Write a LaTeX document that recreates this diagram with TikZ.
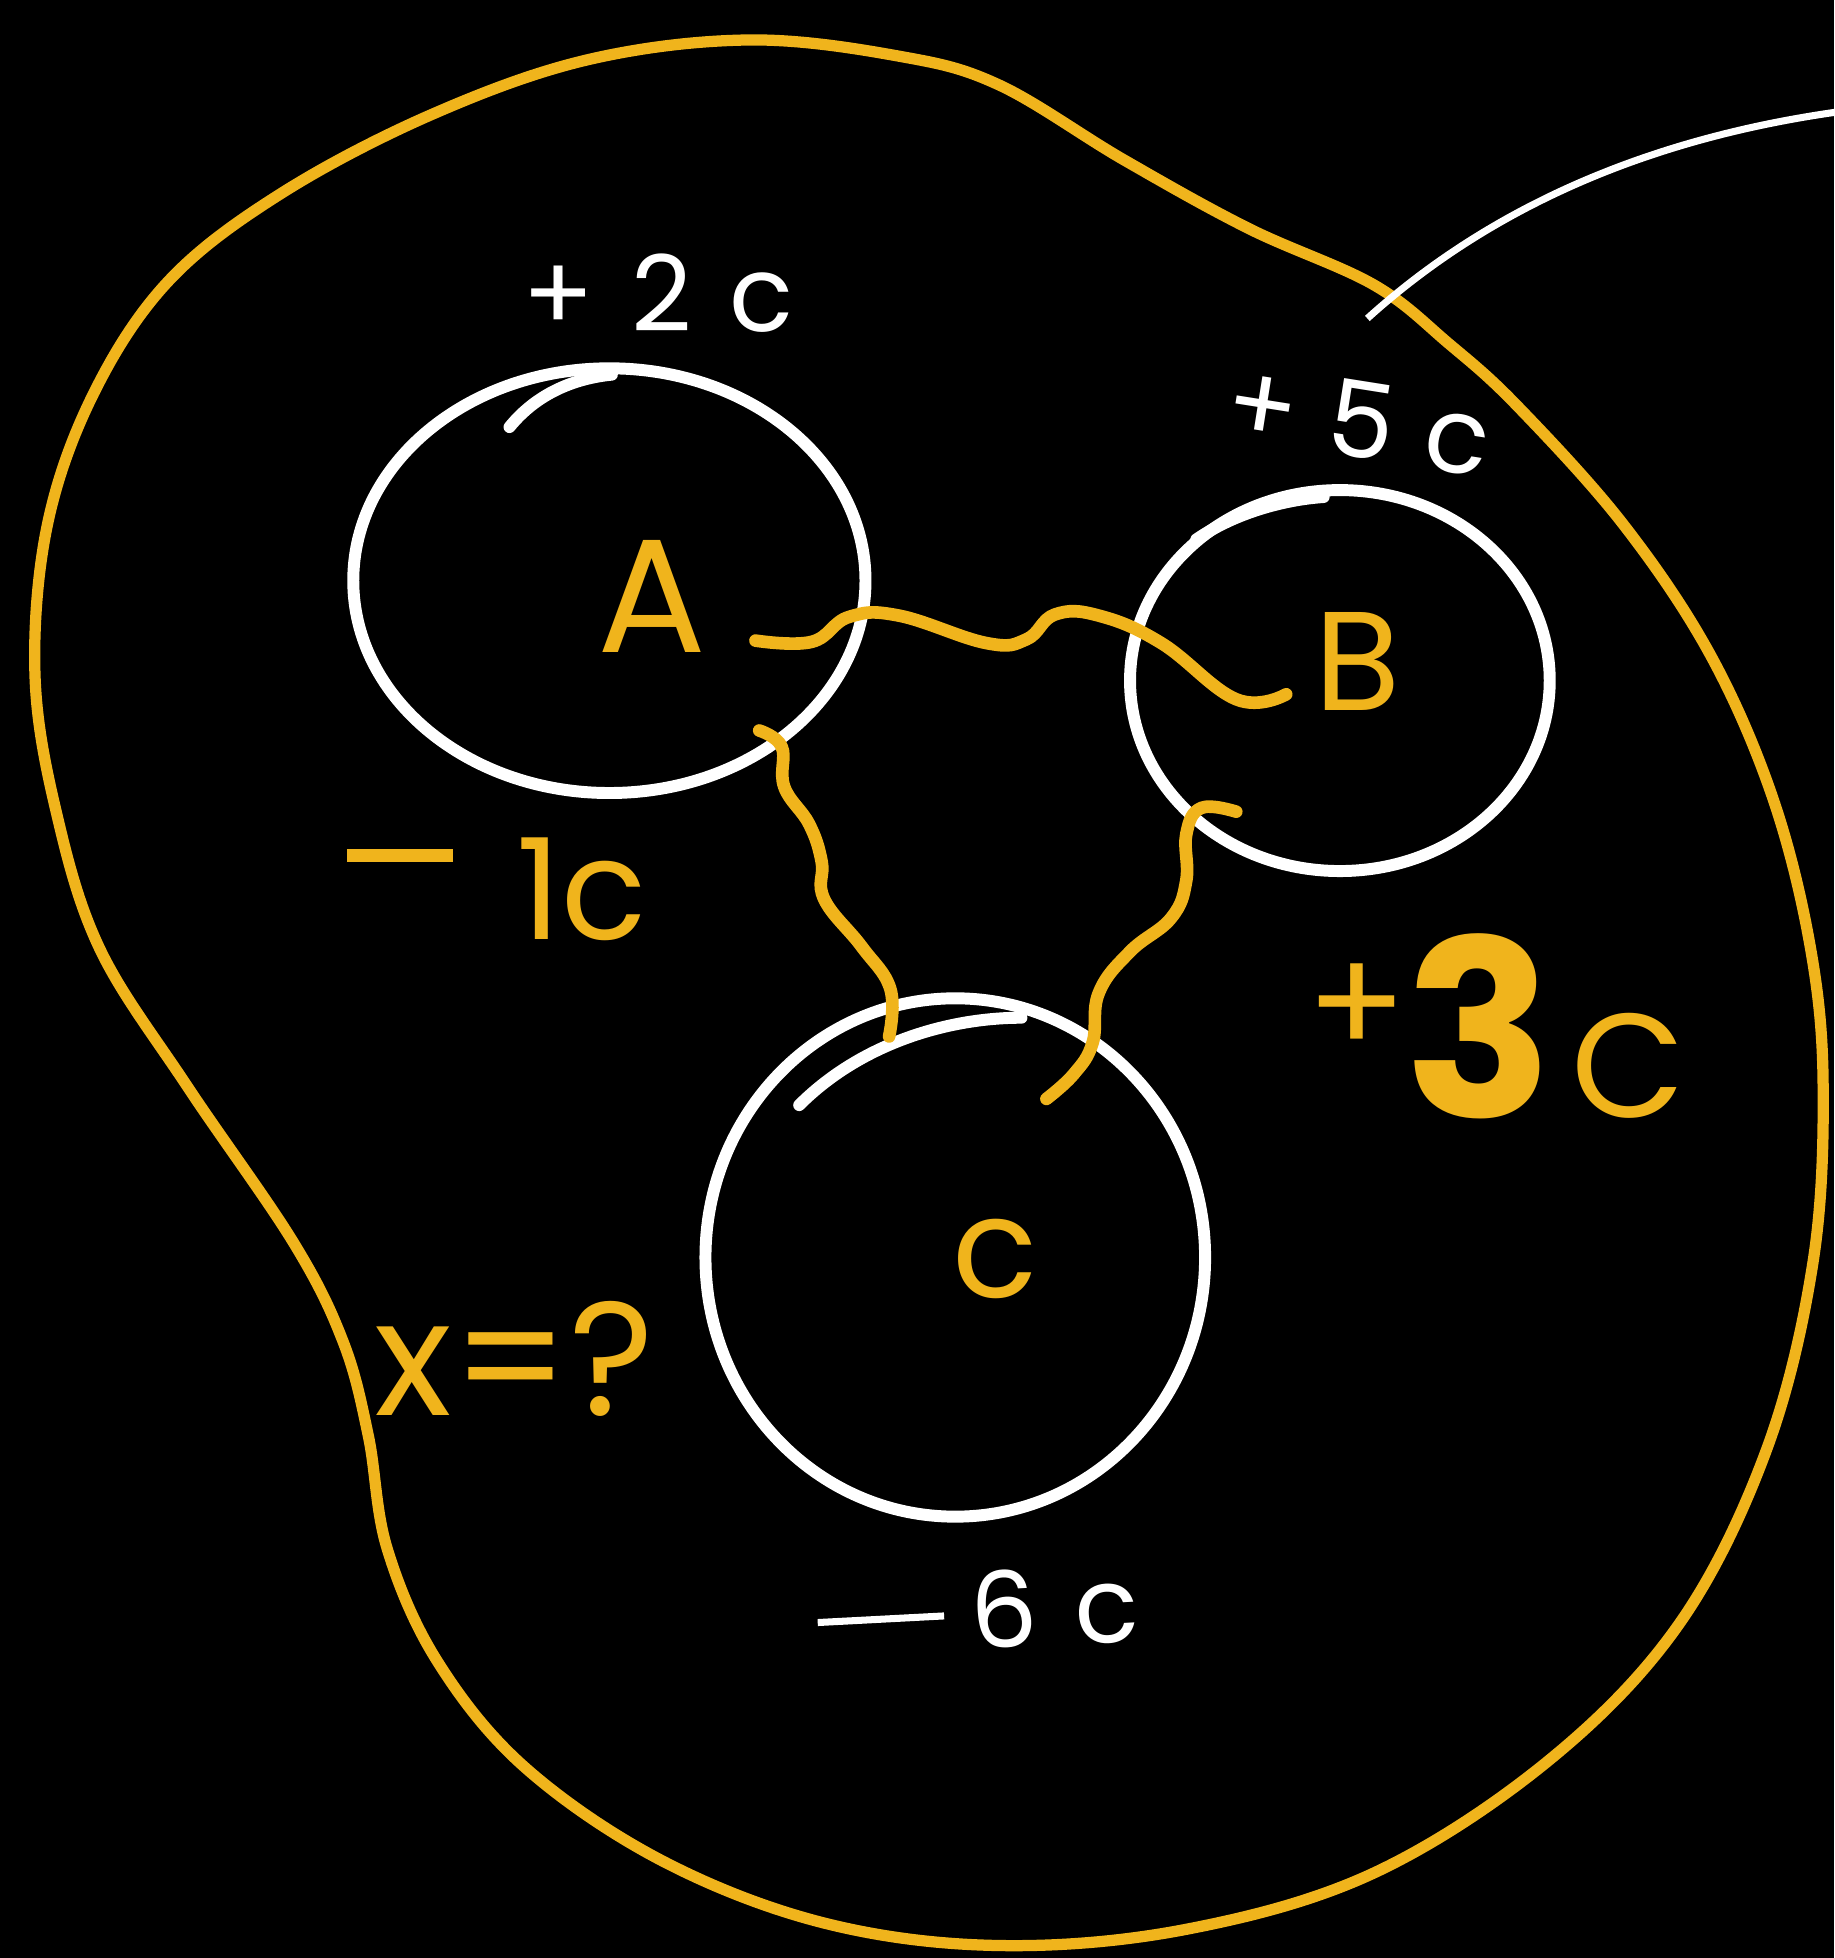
\documentclass[tikz,border=0pt]{standalone}
\usepackage{fontspec}
\setmainfont{Poppins}
\usetikzlibrary{shapes.geometric}
\definecolor{gold}{HTML}{F0B41C}
\tikzset{
  blob/.style={draw=gold, line width=3.2pt, line join=round},
  ball/.style={draw=white, line width=3.4pt, ellipse, inner sep=0pt},
  wave/.style={draw=gold, line width=3.6pt, line cap=round, line join=round},
  wlabel/.style={text=white, inner sep=0pt, font=\fontsize{30}{30}\selectfont},
  ylabel/.style={text=gold, inner sep=0pt},
}
\begin{document}
\begin{tikzpicture}[x=0.012485cm, y=-0.012485cm]
\fill[black] (0,0) rectangle (1469,1568);
\useasboundingbox (0,0) rectangle (1469,1568);

% outer blob
\draw[blob] plot[smooth cycle, tension=0.6] coordinates {
 (600,32) (720,45) (800,68) (900,128) (1000,183) (1100,228) (1160,275) (1215,325)
 (1300,420) (1370,525) (1420,640) (1450,760) (1460,870) (1452,1010) (1415,1160)
 (1345,1300) (1240,1410) (1100,1500) (950,1545) (800,1558) (660,1540) (530,1490)
 (420,1415) (350,1330) (310,1240) (295,1150) (275,1075) (235,995) (150,870)
 (80,760) (45,650) (28,540) (38,420) (75,315) (135,225) (225,155) (345,92) (470,48)};

% white line top right
\coordinate (wl1) at (1095,255);
\coordinate (wl2) at (1469,90);
\draw[white, line width=2pt] (wl1) .. controls (1200,160) and (1330,110) .. (wl2);

% spheres
\node[ball, minimum width=5.12cm, minimum height=4.245cm] (sA) at (488,465) {};
\node[ball, minimum width=4.195cm, minimum height=3.808cm] (sB) at (1073,545) {};
\node[ball, minimum width=4.994cm, minimum height=5.181cm] (sC) at (765,1007) {};
% small overlapping strokes (hand drawn)
\draw[white, line width=3.4pt, line cap=round] (408,342) .. controls (430,315) and (460,303) .. (490,300);
\draw[white, line width=3.4pt, line cap=round] (958,432) .. controls (990,410) and (1030,400) .. (1060,398);
\draw[white, line width=3.4pt, line cap=round] (640,885) .. controls (690,835) and (760,815) .. (818,815);

% sphere letters
\node[ylabel, font=\fontsize{46}{46}\selectfont] (lA) at (522,478) {A};
\node[ylabel, font=\fontsize{40}{40}\selectfont] (lB) at (1087,530) {B};
\node[ylabel, font=\fontsize{40}{40}\selectfont] (lC) at (797,1008) {c};

% wavy connectors
\coordinate (a1) at (605,513);
\coordinate (b1) at (1030,556);
\draw[wave] plot[smooth, tension=0.7] coordinates {(a1) (650,514) (680,494) (720,493) (790,515) (822,512) (845,492) (880,493) (930,515) (990,560) (b1)};
\coordinate (a2) at (608,585);
\coordinate (c1) at (712,830);
\draw[wave] plot[smooth, tension=0.7] coordinates {(a2) (626,598) (628,630) (648,660) (658,690) (660,720) (690,758) (713,792) (c1)};
\coordinate (b2) at (990,650);
\coordinate (c2) at (838,880);
\draw[wave] plot[smooth, tension=0.7] coordinates {(b2) (962,647) (950,668) (950,705) (938,735) (905,762) (880,795) (875,835) (860,860) (c2)};

% charge labels
\node[wlabel] (q2) at (527,235) {+\hspace{0.35em}2\hspace{0.35em}c};
\node[wlabel, rotate=-9] (q5) at (1088,336) {+\hspace{0.3em}5\hspace{0.3em}c};
\node[wlabel, rotate=3] (q6) at (783,1290) {\rule[0.3em]{1.2em}{2pt}\hspace{0.25em}6\hspace{0.35em}c};
\node[ylabel, font=\fontsize{40}{40}\selectfont] (q1) at (398,712) {\rule[0.55em]{0.75em}{3.6pt}\hspace{0.45em}1c};
\node[ylabel, font=\fontsize{42}{42}\selectfont] (q3) at (1198,822) {\raisebox{0.42em}{+}\hspace{-0.02em}{\fontsize{70}{70}\selectfont\bfseries 3}\hspace{0.12em}C};
\node[ylabel, font=\fontsize{46}{46}\selectfont] (qx) at (412,1088) {x=?};
\end{tikzpicture}
\end{document}
